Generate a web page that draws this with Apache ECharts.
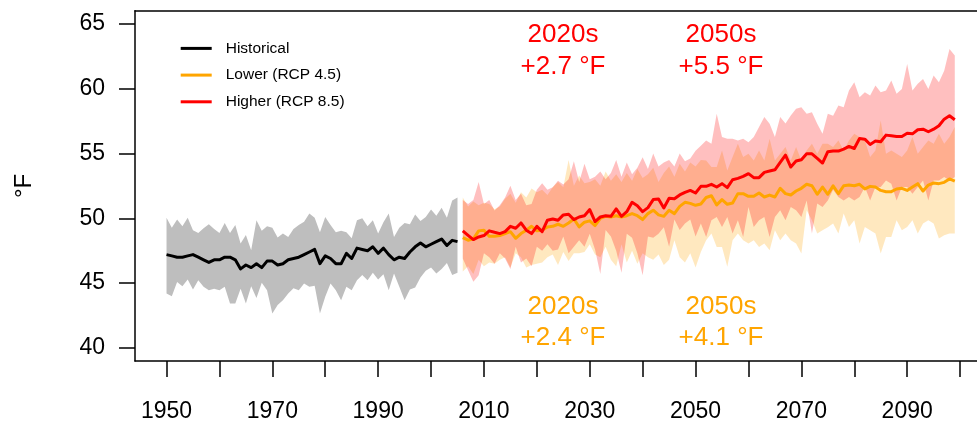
<!DOCTYPE html>
<html>
<head>
<meta charset="utf-8">
<script src="https://cdn.jsdelivr.net/npm/echarts@6.0.0/dist/echarts.min.js"></script>
<style>
html,body{margin:0;padding:0;background:#fff;}
#chart{width:977px;height:423px;}
</style>
</head>
<body>
<div id="chart"></div>
<script>
// ---- data ----
var histYears = [];
for (var y = 1950; y <= 2005; y++) histYears.push(y);
var futYears = [];
for (var y2 = 2006; y2 <= 2099; y2++) futYears.push(y2);

var histMean = [47.2,47.1,47.0,47.0,47.1,47.2,47.0,46.8,46.6,46.8,
46.8,47.0,47.0,46.8,46.1,46.4,46.2,46.5,46.2,46.7,
46.7,46.4,46.5,46.8,46.9,47.0,47.2,47.4,47.6,46.5,
47.1,46.9,46.5,46.5,47.3,46.9,47.7,47.6,47.5,47.8,
47.3,47.7,47.2,46.8,47.0,46.9,47.4,47.8,48.1,47.8,
48.0,48.2,48.4,47.9,48.3,48.2];
var histUpper = [50.05,49.28,49.9,49.38,50.05,49.08,48.87,49.23,49.54,49.18,
48.87,49.64,48.87,49.49,48.05,48.72,47.54,49.85,49.03,49.38,
49.28,48.51,48.82,48.56,49.18,49.49,49.74,50.36,50.05,48.92,
50.1,49.49,48.92,49.03,48.92,48.46,49.85,50.0,49.38,49.85,
48.82,49.69,50.36,48.56,49.28,49.64,49.54,50.3,49.8,50.1,
50.67,50.2,50.82,50.05,51.38,51.6];
var histLower = [44.2,44.0,45.08,44.77,45.28,44.51,45.23,44.72,44.46,44.56,
44.46,44.72,43.44,43.44,44.56,43.44,44.77,43.85,45.03,44.46,
42.67,43.31,43.69,44.2,44.6,44.46,44.97,44.72,44.8,42.67,
43.95,44.97,44.46,43.69,44.72,44.46,45.23,45.62,45.23,45.8,
45.28,45.69,44.46,45.74,44.72,43.69,44.51,44.67,45.44,45.95,
46.2,45.74,46.1,46.56,45.62,45.8];

var rcp85Mean = [49.03,48.69,48.36,48.56,48.67,49.03,48.92,48.82,48.97,49.38,
49.23,49.64,49.08,48.82,49.38,48.97,49.85,49.95,49.85,50.26,
50.31,49.9,50.1,50.2,50.67,49.75,50.1,50.2,50.15,50.72,
50.15,50.51,51.23,50.97,50.51,50.82,51.44,51.49,50.8,51.54,
51.5,51.8,52.0,52.15,51.95,52.46,52.46,52.62,52.41,52.67,
52.36,52.97,53.08,53.23,53.44,53.13,53.13,53.54,53.64,53.74,
54.31,54.87,53.95,54.41,54.51,54.97,54.97,54.62,54.26,55.13,
55.18,55.18,55.33,55.54,55.38,56.15,56.1,55.69,55.95,55.9,
56.41,56.36,56.31,56.31,56.56,56.51,56.82,56.87,56.67,56.87,
57.13,57.64,57.9,57.59];
var rcp85Upper = [51.4,51.1,51.4,52.8,51.1,51.4,50.6,51.0,51.6,52.5,
51.4,51.9,51.0,51.1,52.2,52.7,52.2,52.4,52.9,52.6,
53.0,54.4,52.8,54.2,53.0,53.2,53.6,53.0,53.5,54.5,
53.2,54.3,53.4,53.9,54.7,53.8,55.0,54.0,54.3,54.5,
54.0,55.0,54.4,54.6,55.2,55.6,56.0,55.74,58.05,56.26,
56.13,56.13,56.0,56.13,55.87,56.26,57.03,57.8,57.28,56.26,
57.8,57.3,57.92,58.44,58.56,58.05,58.18,57.28,56.51,58.05,
57.9,58.69,58.56,59.85,60.49,59.33,59.72,59.46,60.23,59.72,
59.85,60.62,59.59,59.97,61.9,59.85,60.36,60.74,59.97,61.0,
60.49,61.38,63.05,62.54];
var rcp85Lower = [46.9,46.0,45.1,45.6,47.3,47.0,46.5,47.3,46.9,46.1,
47.8,46.6,46.9,46.3,47.8,47.5,48.0,47.5,47.6,48.6,
47.3,47.8,48.3,47.8,48.8,47.6,45.7,49.1,48.6,47.5,
45.8,48.8,48.5,47.3,45.6,48.6,48.5,48.8,49.3,47.8,
49.9,49.1,49.6,49.9,48.6,49.6,48.56,49.85,50.1,49.33,
50.1,48.82,49.85,48.56,50.87,49.33,49.85,50.1,48.56,50.1,
50.62,49.85,50.87,50.62,50.1,51.38,48.82,51.13,50.87,51.38,
52.2,51.64,51.38,51.64,51.38,51.64,52.41,51.38,52.41,52.41,
52.92,52.67,51.38,52.41,52.41,51.9,52.41,52.92,51.38,52.92,
52.92,53.18,52.92,53.18];

var rcp45Mean = [48.51,48.31,48.41,49.03,49.08,48.62,48.62,48.67,48.82,48.97,
48.46,48.82,49.08,49.38,49.03,49.08,49.33,49.38,49.54,49.38,
49.64,49.95,49.33,49.7,49.8,49.44,50.0,50.15,50.1,50.2,
50.1,50.2,50.36,50.2,49.9,50.36,50.62,50.26,50.15,50.62,
50.36,50.92,51.23,51.15,51.0,51.1,51.6,51.74,51.03,51.44,
51.08,51.18,51.9,51.9,51.69,51.69,51.95,51.64,51.79,51.64,
52.31,51.9,51.79,52.1,52.31,52.62,52.51,51.85,52.41,51.85,
52.5,51.9,52.51,52.56,52.51,52.62,52.26,52.46,52.41,52.15,
52.05,52.05,52.26,52.31,52.15,52.41,52.67,52.1,52.56,52.72,
52.67,52.77,53.03,52.87];
var rcp45Upper = [51.6,50.9,51.3,51.0,51.2,51.1,50.7,50.9,51.5,51.9,
51.2,52.0,51.6,52.3,52.0,52.2,51.8,52.4,52.8,52.4,
54.5,52.5,53.3,52.7,52.8,53.0,52.5,53.6,52.9,53.4,
52.8,53.5,52.9,53.8,53.1,53.4,53.9,52.8,53.5,54.0,
53.2,54.2,53.6,54.3,54.0,54.5,54.46,53.95,53.95,55.23,
53.69,54.72,55.74,54.72,54.97,54.46,55.23,54.46,56.13,54.46,
54.97,55.49,54.46,55.49,54.46,55.23,55.74,54.97,55.74,55.74,
55.49,56.0,55.23,56.0,56.51,56.26,56.0,54.72,55.23,57.54,
54.97,55.23,54.97,54.72,55.23,56.26,54.97,55.49,56.0,55.74,
56.51,55.74,56.26,57.03];
var rcp45Lower = [45.9,46.3,45.7,46.8,46.3,46.6,46.5,46.8,47.0,46.2,
47.3,47.0,46.2,46.4,46.5,46.6,47.0,47.2,46.4,47.4,
46.7,47.3,47.3,47.4,48.0,47.2,47.0,47.8,46.8,46.3,
48.0,46.6,47.5,46.5,47.3,47.0,46.8,47.2,46.4,46.8,
48.3,47.0,46.6,47.3,46.2,47.4,48.3,48.82,47.79,47.79,
46.26,48.31,48.82,48.31,48.05,48.31,47.79,48.05,47.54,49.08,
48.31,48.82,48.31,48.05,47.28,50.62,49.85,48.82,49.08,49.3,
49.59,48.82,50.36,49.33,49.85,48.05,49.33,49.08,48.82,47.28,
48.56,48.56,49.85,49.08,49.33,49.85,48.82,49.59,49.85,49.59,
48.44,48.69,48.82,48.82];

var xTicks = [1950,1960,1970,1980,1990,2000,2010,2020,2030,2040,2050,2060,2070,2080,2090,2100];
var xLabels = [1950,1970,1990,2010,2030,2050,2070,2090];
var yTicks = [40,45,50,55,60,65];

var FONT = '"Liberation Sans", Arial, Helvetica, sans-serif';

function pairs(xs, ys) { return xs.map(function (x, i) { return [x, ys[i]]; }); }

function band(name, xs, lo, hi, color) {
  return {
    type: 'custom', name: name, silent: true, z: 1, animation: false,
    data: [[xs[0], lo[0]]],
    encode: { x: 0, y: 1 },
    renderItem: function (params, api) {
      var pts = [];
      for (var i = 0; i < xs.length; i++) pts.push(api.coord([xs[i], hi[i]]));
      for (var j = xs.length - 1; j >= 0; j--) pts.push(api.coord([xs[j], lo[j]]));
      return { type: 'polygon', shape: { points: pts }, style: { fill: color } };
    }
  };
}

function line(name, xs, ys, color) {
  return {
    type: 'line', name: name, data: pairs(xs, ys), showSymbol: false, symbol: 'none',
    silent: true, z: 5, animation: false,
    lineStyle: { color: color, width: 3, join: 'round' },
    itemStyle: { color: color }
  };
}

function ann(text, x, y, color) {
  return { type: 'text', x: x, y: y, silent: true,
    style: { text: text, fill: color, font: '26px ' + FONT, textAlign: 'center', textVerticalAlign: 'middle' } };
}

var chart = echarts.init(document.getElementById('chart'), null, { renderer: 'canvas' });
chart.setOption({
  animation: false,
  backgroundColor: '#fff',
  grid: { left: 135, right: 0, top: 10.7, bottom: 62, containLabel: false, outerBoundsMode: 'none' },
  legend: {
    data: ['Historical', 'Lower (RCP 4.5)', 'Higher (RCP 8.5)'],
    orient: 'vertical', left: 180.7, top: 39.4, itemGap: 8.7, padding: 0,
    icon: 'rect', itemWidth: 31, itemHeight: 3, selectedMode: false,
    textStyle: { fontSize: 15.5, fontFamily: FONT, color: '#000', lineHeight: 18, padding: [0, 0, 0, 9] }
  },
  xAxis: [{
    type: 'value', min: 1944.04, max: 2103.2, position: 'bottom',
    axisLine: { show: true, onZero: false, lineStyle: { color: '#000', width: 1.5 } },
    axisTick: { show: true, length: 16, customValues: xTicks, lineStyle: { color: '#000', width: 1.5 } },
    axisLabel: { customValues: xLabels, fontSize: 23, fontFamily: FONT, color: '#000', margin: 39,
      formatter: function (v) { return String(v); } },
    splitLine: { show: false }
  }, {
    type: 'value', min: 1944.04, max: 2103.2, position: 'top',
    axisLine: { show: true, onZero: false, lineStyle: { color: '#000', width: 1.5 } },
    axisTick: { show: false }, axisLabel: { show: false }, splitLine: { show: false }
  }],
  yAxis: {
    type: 'value', min: 39, max: 66,
    name: '°F', nameLocation: 'middle', nameGap: 99, nameRotate: 90,
    nameTextStyle: { fontSize: 24, fontFamily: FONT, color: '#000' },
    axisLine: { show: true, onZero: false, lineStyle: { color: '#000', width: 1.5 } },
    axisTick: { show: true, length: 16, customValues: yTicks, lineStyle: { color: '#000', width: 1.5 } },
    axisLabel: { customValues: yTicks, fontSize: 23, fontFamily: FONT, color: '#000', margin: 30 },
    splitLine: { show: false }
  },
  series: [
    band('hist band', histYears, histLower, histUpper, 'rgb(190,190,190)'),
    band('rcp45 band', futYears, rcp45Lower, rcp45Upper, 'rgba(255,165,0,0.25)'),
    band('rcp85 band', futYears, rcp85Lower, rcp85Upper, 'rgba(255,0,0,0.25)'),
    line('Historical', histYears, histMean, '#000000'),
    line('Lower (RCP 4.5)', futYears, rcp45Mean, '#FFA500'),
    line('Higher (RCP 8.5)', futYears, rcp85Mean, '#FF0000')
  ],
  graphic: [
    ann('2020s', 563, 35, '#FF0000'),
    ann('+2.7 °F', 563, 67, '#FF0000'),
    ann('2050s', 721, 35, '#FF0000'),
    ann('+5.5 °F', 721, 67, '#FF0000'),
    ann('2020s', 563, 307, '#FFA500'),
    ann('+2.4 °F', 563, 338, '#FFA500'),
    ann('2050s', 721, 307, '#FFA500'),
    ann('+4.1 °F', 721, 338, '#FFA500')
  ]
});
</script>
</body>
</html>
